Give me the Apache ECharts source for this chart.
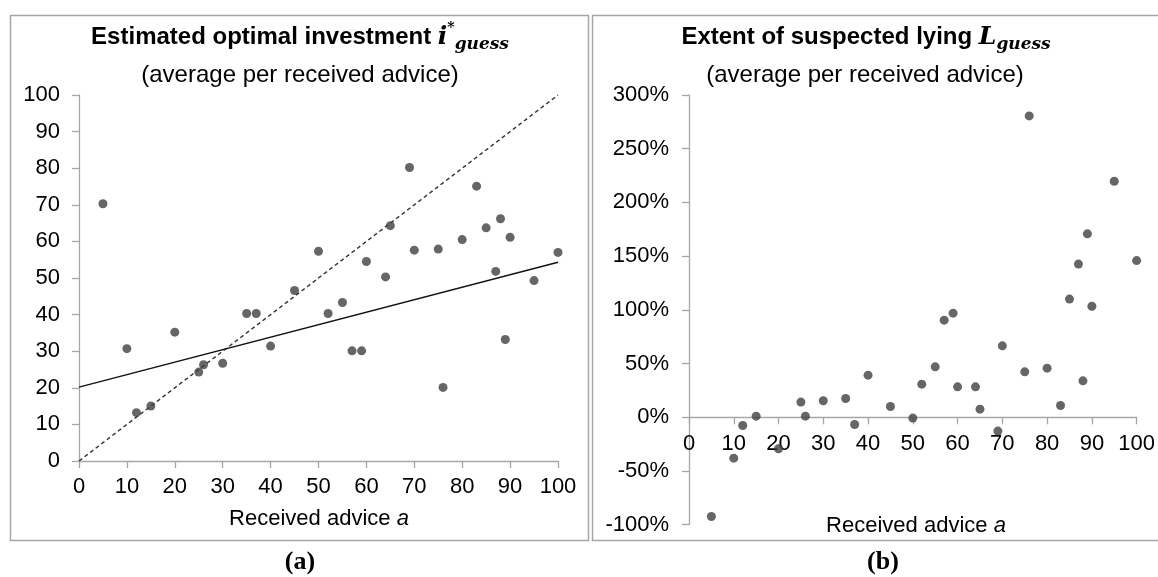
<!DOCTYPE html>
<html>
<head>
<meta charset="utf-8">
<script src="https://cdn.jsdelivr.net/npm/echarts@6/dist/echarts.min.js"></script>
<style>
html,body{margin:0;padding:0;background:#fff;}
#chart{width:1158px;height:577px;}
</style>
</head>
<body>
<div id="chart"></div>
<script>
// Received advice a (shared x values of both panels)
var adviceA = [5,10,12,15,20,25,26,30,35,37,40,45,50,52,55,57,59,60,64,65,69,70,75,76,80,83,85,87,88,89,90,95,100];
// Panel (a): estimated optimal investment i*_guess
var investGuess = [70.3,30.7,13.2,15.0,35.2,24.3,26.3,26.7,40.3,40.3,31.4,46.6,57.3,40.3,43.3,30.1,30.1,54.5,50.3,64.3,80.2,57.6,57.9,20.1,60.5,75.1,63.7,51.8,66.2,33.2,61.1,49.3,57.0];
// Panel (b): extent of suspected lying L_guess, in percent
var lyingGuess = [-92.5,-38.2,-7.8,0.9,-29.5,14.0,0.9,15.2,17.3,-6.9,39.1,9.9,-0.9,30.7,46.8,90.3,96.8,28.2,28.2,7.4,-13.0,66.4,42.2,280.5,45.6,10.8,109.9,142.5,33.8,170.7,103.3,219.7,145.8];
// Panel (a) reference lines
var trendLine = [[0,20.2],[100,54.3]];
var diagonalLine = [[0,0],[100,100]];
// Tick ranges
var xTicks = {min:0, max:100, interval:10};
var yTicksA = {min:0, max:100, interval:10};
var yTicksB = {min:-100, max:300, interval:50};

var pointsA = adviceA.map(function(a,i){return [a, investGuess[i]];});
var pointsB = adviceA.map(function(a,i){return [a, lyingGuess[i]];});

var AX = '#a6a6a6';
var TXT = '#000';
var SANS = 'Liberation Sans, Arial, sans-serif';
var MATH = 'DejaVu Serif, serif';
var FS = 22;

function axisCommon(extra){
  var o = {
    type:'value',
    axisLine:{show:true, onZero:false, lineStyle:{color:AX, width:1.3}},
    axisTick:{show:true, length:7, lineStyle:{color:AX, width:1.3}},
    splitLine:{show:false},
    axisLabel:{color:TXT, fontSize:FS, fontFamily:SANS}
  };
  for (var k in extra) o[k]=extra[k];
  return o;
}

var titleRich = {
  b:{fontSize:24, fontWeight:'bold', fontFamily:SANS, color:TXT, lineHeight:32},
  m:{fontSize:25, fontWeight:'bold', fontStyle:'italic', fontFamily:MATH, color:TXT, lineHeight:32},
  sup:{fontSize:14, fontFamily:MATH, color:TXT, verticalAlign:'top', lineHeight:32, padding:[0,0,12,0]},
  sub:{fontSize:17, fontWeight:'bold', fontStyle:'italic', fontFamily:MATH, color:TXT, verticalAlign:'bottom', lineHeight:32, padding:[10,0,0,0]}
};
var nameRich = {
  n:{fontSize:22, fontWeight:'normal', fontFamily:SANS, color:TXT},
  i:{fontSize:22, fontWeight:'normal', fontFamily:SANS, fontStyle:'italic', color:TXT}
};

var option = {
  animation:false,
  backgroundColor:'#fff',
  graphic:[
    {type:'rect', shape:{x:10.5, y:15.5, width:578, height:525}, style:{fill:'none', stroke:AX, lineWidth:1.5}, silent:true},
    {type:'rect', shape:{x:592.5, y:15.5, width:600, height:525}, style:{fill:'none', stroke:AX, lineWidth:1.5}, silent:true}
  ],
  title:[
    {text:'{b|Estimated optimal investment }{m|i}{sup|*}{sub|guess}', left:300, top:21, textAlign:'center', padding:0,
     textStyle:{rich:titleRich}},
    {text:'(average per received advice)', left:300, top:63, textAlign:'center', padding:0,
     textStyle:{fontSize:24, fontWeight:'normal', fontFamily:SANS, color:TXT}},
    {text:'{b|Extent of suspected lying }{m|L}{sub|guess}', left:866, top:21, textAlign:'center', padding:0,
     textStyle:{rich:titleRich}},
    {text:'(average per received advice)', left:865, top:63, textAlign:'center', padding:0,
     textStyle:{fontSize:24, fontWeight:'normal', fontFamily:SANS, color:TXT}},
    {text:'{n|Received advice }{i|a}', left:319, top:508, textAlign:'center', padding:0,
     textStyle:{fontWeight:'normal', rich:nameRich}},
    {text:'{n|Received advice }{i|a}', left:916, top:515, textAlign:'center', padding:0,
     textStyle:{fontWeight:'normal', rich:nameRich}},
    {text:'(a)', left:300, top:549, textAlign:'center', padding:0,
     textStyle:{fontSize:26, fontWeight:'bold', fontFamily:'Liberation Serif, Times New Roman, serif', color:TXT}},
    {text:'(b)', left:883, top:549, textAlign:'center', padding:0,
     textStyle:{fontSize:26, fontWeight:'bold', fontFamily:'Liberation Serif, Times New Roman, serif', color:TXT}}
  ],
  grid:[
    {left:79, right:600, top:95, bottom:116, containLabel:false},
    {left:689, right:17, top:95, bottom:52.5, containLabel:false}
  ],
  xAxis:[
    axisCommon({gridIndex:0, min:xTicks.min, max:xTicks.max, interval:xTicks.interval,
      axisLabel:{color:TXT, fontSize:FS, fontFamily:SANS, margin:15}}),
    axisCommon({gridIndex:1, min:xTicks.min, max:xTicks.max, interval:xTicks.interval,
      offset:-107.2,
      axisLabel:{color:TXT, fontSize:FS, fontFamily:SANS, margin:16}})
  ],
  yAxis:[
    axisCommon({gridIndex:0, min:yTicksA.min, max:yTicksA.max, interval:yTicksA.interval,
      axisLabel:{color:TXT, fontSize:FS, fontFamily:SANS, margin:19}}),
    axisCommon({gridIndex:1, min:yTicksB.min, max:yTicksB.max, interval:yTicksB.interval,
      axisLabel:{color:TXT, fontSize:FS, fontFamily:SANS, margin:20, formatter:'{value}%'}})
  ],
  series:[
    {type:'line', xAxisIndex:0, yAxisIndex:0, data:diagonalLine, symbol:'none', silent:true,
     lineStyle:{color:'#333', width:1.4, type:[4,3]}, z:2},
    {type:'line', xAxisIndex:0, yAxisIndex:0, data:trendLine, symbol:'none', silent:true,
     lineStyle:{color:'#111', width:1.4}, z:2},
    {type:'scatter', xAxisIndex:0, yAxisIndex:0, data:pointsA, symbol:'circle', symbolSize:9,
     itemStyle:{color:'#404040'}, z:3},
    {type:'scatter', xAxisIndex:1, yAxisIndex:1, data:pointsB, symbol:'circle', symbolSize:9,
     itemStyle:{color:'#404040'}, z:3}
  ]
};

var chart = echarts.init(document.getElementById('chart'), null, {renderer:'canvas'});
chart.setOption(option);
</script>
</body>
</html>
